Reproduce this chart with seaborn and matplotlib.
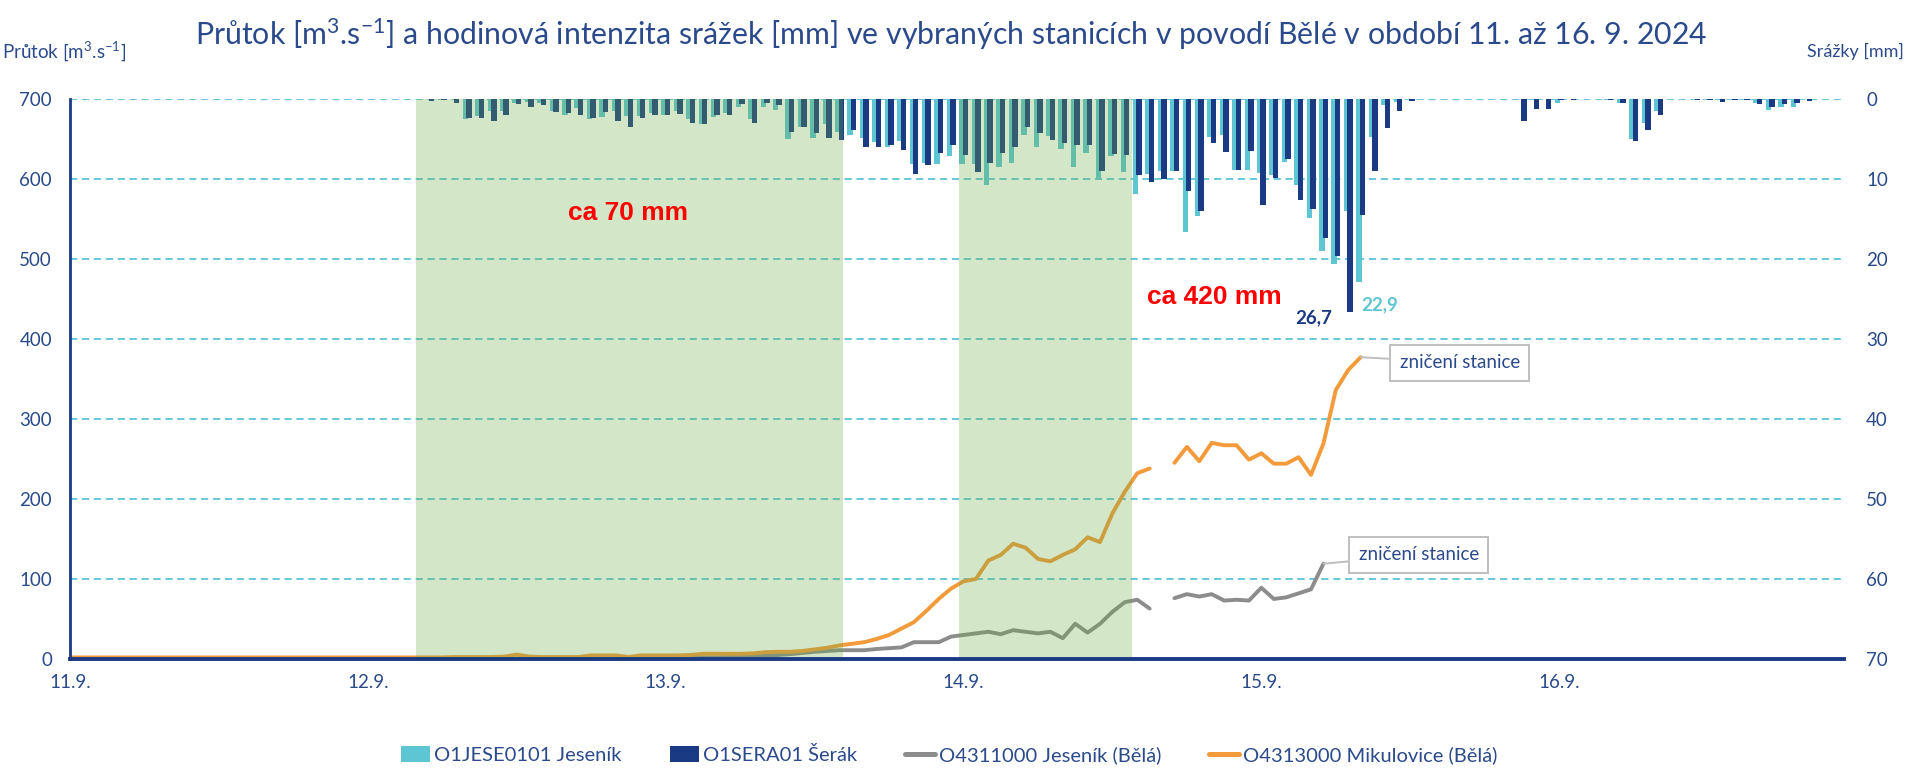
import numpy as np
import pandas as pd
import matplotlib
matplotlib.use("Agg")
import matplotlib.pyplot as plt
from matplotlib.patches import Patch
from matplotlib.lines import Line2D
import seaborn as sns

# ---------------- data ----------------
day_labels = ["11.9.", "12.9.", "13.9.", "14.9.", "15.9.", "16.9."]
day_hours = [0, 24, 48, 72, 96, 120]

# hourly precipitation [mm], hours counted from 11.9. 00:00
precip_hours = list(range(28, 141))
jesenik_mm = [
    0.1, 0.0, 0.2, 0.1, 2.6, 2.2, 1.5, 1.5, 0.5, 0.4,   # 28-37
    0.6, 1.5, 2.0, 1.2, 2.5, 2.3, 1.5, 2.2, 2.2, 1.8,   # 38-47
    2.0, 1.6, 2.5, 3.2, 2.3, 1.8, 1.0, 2.5, 1.0, 1.4,   # 48-57
    5.0, 3.5, 4.9, 3.2, 4.2, 4.5, 4.9, 5.4, 6.1, 5.3,   # 58-67
    8.2, 8.0, 8.2, 7.2, 8.2, 8.2, 10.8, 8.6, 8.0, 4.6,  # 68-77
    6.1, 4.7, 6.3, 8.6, 6.8, 10.0, 7.2, 9.2, 11.9, 9.4, # 78-87
    9.0, 9.1, 16.7, 14.7, 4.8, 4.6, 8.9, 8.9, 9.3, 9.6, # 88-97
    7.9, 10.8, 14.9, 19.0, 20.7, 14.0, 22.9, 4.8, 0.8, 0.4,  # 98-107
    0.1, 0.0, 0.0, 0.0, 0.0, 0.1, 0.0, 0.0, 0.0, 0.0,   # 108-117
    0.2, 0.1, 0.6, 0.1, 0.0, 0.0, 0.2, 0.6, 5.0, 3.1,   # 118-127
    1.5, 0.0, 0.0, 0.0, 0.0, 0.2, 0.0, 0.0, 0.6, 1.4,   # 128-137
    1.0, 1.0, 0.0,                                      # 138-140
]
serak_mm = [
    0.0, 0.3, 0.2, 0.5, 2.4, 2.4, 2.8, 2.0, 0.7, 1.0,   # 28-37
    0.8, 1.7, 1.8, 2.1, 2.4, 1.7, 2.8, 3.5, 2.4, 2.1,   # 38-47
    2.1, 1.9, 3.0, 3.2, 2.1, 2.1, 0.7, 3.0, 0.5, 0.8,   # 48-57
    4.2, 3.6, 4.3, 4.9, 5.2, 3.9, 6.1, 6.1, 5.8, 6.4,   # 58-67
    9.4, 8.3, 6.8, 5.8, 7.0, 9.2, 8.0, 6.8, 6.1, 3.6,   # 68-77
    4.3, 5.2, 5.6, 5.8, 5.8, 9.0, 6.9, 7.1, 9.6, 10.4,  # 78-87
    10.0, 9.1, 11.5, 14.0, 5.5, 6.7, 8.9, 6.5, 13.3, 9.9,   # 88-97
    7.5, 12.7, 13.8, 17.4, 19.7, 26.7, 14.5, 9.1, 3.7, 1.5, # 98-107
    0.3, 0.0, 0.0, 0.0, 0.0, 0.0, 0.0, 0.0, 0.0, 2.8,   # 108-117
    1.25, 1.25, 0.2, 0.2, 0.1, 0.0, 0.2, 0.6, 5.3, 3.9, # 118-127
    2.1, 0.0, 0.0, 0.2, 0.2, 0.4, 0.2, 0.2, 0.7, 1.1,   # 128-137
    0.7, 0.6, 0.3,                                      # 138-140
]

# hourly discharge [m3/s]; NaN = missing hour
flow_hours_mikulovice = list(range(0, 105))
mikulovice_flow = [
    2.0, 2.0, 2.0, 2.0, 2.0, 2.0, 2.0, 2.0, 2.0, 2.0, 2.0, 2.0,       # 0-11
    2.0, 2.0, 2.0, 2.0, 2.0, 2.0, 2.0, 2.0, 2.0, 2.0, 2.0, 2.0,       # 12-23
    2.0, 2.0, 2.0, 2.0, 2.0, 2.0, 2.0, 2.5, 2.5, 2.5,                 # 24-33
    2.5, 3.0, 5.5, 3.0, 2.5, 2.5, 2.5, 2.5, 4.5, 4.5,                 # 34-43
    4.5, 2.5, 4.5, 4.5, 4.5, 4.5, 5.0, 6.5, 6.5, 6.5,                 # 44-53
    6.5, 7.0, 8.5, 9.0, 9.0, 10, 12, 14, 17, 19,                      # 54-63
    21, 25, 30, 38, 46, 60, 75, 88, 97, 100,                          # 64-73
    123, 130, 144, 139, 125, 122, 130, 137, 152, 146,                 # 74-83
    182, 209, 232, 238, np.nan, 245, 265, 247, 270, 267,              # 84-93
    267, 249, 257, 244, 244, 252, 230, 269, 336, 361, 377,            # 94-104
]
flow_hours_jesenik = list(range(0, 102))
jesenik_flow = [
    0.5, 0.5, 0.5, 0.5, 0.5, 0.5, 0.5, 0.5, 0.5, 0.5, 0.5, 0.5,       # 0-11
    0.5, 0.5, 0.5, 0.5, 0.5, 0.5, 0.5, 0.5, 0.5, 0.5, 0.5, 0.5,       # 12-23
    0.5, 0.5, 0.5, 0.5, 0.5, 0.5, 0.5, 0.5, 0.5, 0.5, 0.5, 0.5,       # 24-35
    0.5, 0.5, 0.5, 0.5, 0.5, 0.5, 0.5, 0.5, 0.5, 0.5, 0.5, 0.5,       # 36-47
    1.0, 1.0, 1.5, 2.0, 2.0, 2.5, 3.0, 3.5, 4.0, 5.0,                 # 48-57
    6.0, 7.5, 9.0, 10, 11, 11, 11, 12.5, 13.5, 14.5,                  # 58-67
    21, 21, 21, 28, 30, 32, 34, 31, 36, 34,                           # 68-77
    32, 34, 26, 44, 33, 44, 59, 71, 74, 63,                           # 78-87
    np.nan, 76, 81, 78, 81, 73, 74, 73, 89, 75,                       # 88-97
    77, 82, 87, 119,                                                  # 98-101
]

rain_periods = [(27.85, 62.25), (71.65, 85.55)]

labels = ["O1JESE0101 Jeseník", "O1SERA01 Šerák",
          "O4311000 Jeseník (Bělá)", "O4313000 Mikulovice (Bělá)"]

# ---------------- style ----------------
c_light = "#5EC5D3"
c_dark = "#1B3A84"
c_grey = "#8C8C8C"
c_orange = "#F39A3B"
c_span = "#70AD47"
c_text = "#2B4A8C"
c_grid = "#5CC4D8"

sns.set_style("white")
plt.rcParams["font.family"] = ["Lato", "DejaVu Sans"]
plt.rcParams["mathtext.default"] = "regular"

fig = plt.figure(figsize=(19.09, 7.68), dpi=100)
ax = fig.add_axes([70 / 1909, 1 - 659 / 768, (1844 - 70) / 1909, (659 - 98.6) / 768])
ax2 = ax.twinx()

# discharge lines
for hrs, vals, col in [(flow_hours_jesenik, jesenik_flow, c_grey),
                       (flow_hours_mikulovice, mikulovice_flow, c_orange)]:
    df = pd.DataFrame({"hour": hrs, "flow": vals})
    df["seg"] = df["flow"].isna().cumsum()
    df = df.dropna()
    sns.lineplot(data=df, x="hour", y="flow", units="seg", estimator=None,
                 color=col, lw=2.8, ax=ax, legend=False,
                 solid_joinstyle="round", solid_capstyle="round")

# precipitation bars (hanging from the top)
ph = np.array(precip_hours, dtype=float)
sns.barplot(x=ph - 0.13, y=jesenik_mm, native_scale=True, width=0.44,
            color=c_light, saturation=1, errorbar=None, linewidth=0, ax=ax2)
sns.barplot(x=ph + 0.15, y=serak_mm, native_scale=True, width=0.44,
            color=c_dark, saturation=1, errorbar=None, linewidth=0, ax=ax2)

for s, e in rain_periods:
    ax2.axvspan(s, e, color=c_span, alpha=0.3, lw=0, zorder=10)

# axes
ax.set_xlim(0.12, 142.95)
ax.set_ylim(0, 700)
ax2.set_ylim(70, 0)
ax.set_yticks(range(0, 701, 100))
ax2.set_yticks(range(0, 71, 10))
ax.set_xticks(day_hours)
ax.set_xticklabels(day_labels)
ax.set_xlabel("")
ax.set_ylabel("")
ax2.set_ylabel("")
ax.grid(axis="y", color=c_grid, lw=1.3, linestyle=(0, (4, 2.6)))
ax.grid(axis="x", visible=False)
ax2.grid(False)

ax.tick_params(axis="y", length=0, pad=13, labelsize=13.5, labelcolor=c_text)
ax.tick_params(axis="x", length=0, pad=11, labelsize=13.5, labelcolor=c_text)
ax2.tick_params(axis="y", length=0, pad=16, labelsize=13.5, labelcolor=c_text)
for lab in ax2.get_yticklabels():
    lab.set_horizontalalignment("left")

for sp in ["top", "right", "bottom"]:
    ax.spines[sp].set_visible(False)
ax.spines["left"].set_color(c_dark)
ax.spines["left"].set_linewidth(2.0)
for sp in ["top", "right", "left"]:
    ax2.spines[sp].set_visible(False)
ax2.spines["bottom"].set_color(c_dark)
ax2.spines["bottom"].set_linewidth(2.8)
ax2.spines["bottom"].set_zorder(30)

# annotations
ax2.text(45.0, 14.3, "ca 70 mm", color="red", fontsize=19, fontweight="bold",
         family=["Liberation Sans", "DejaVu Sans"], ha="center", va="center", zorder=20)
ax2.text(92.2, 24.8, "ca 420 mm", color="red", fontsize=19, fontweight="bold",
         family=["Liberation Sans", "DejaVu Sans"], ha="center", va="center", zorder=20)
ax2.text(100.2, 27.4, "26,7", color=c_dark, fontsize=13.5, fontweight="bold",
         ha="center", va="center", zorder=20)
ax2.text(105.5, 25.8, "22,9", color=c_light, fontsize=13.5, fontweight="bold",
         ha="center", va="center", zorder=20)

box = dict(boxstyle="square,pad=0.5", fc="white", ec="#BFBFBF", lw=1.4)
arr = dict(arrowstyle="-", color="#BFBFBF", lw=1.4, shrinkA=0, shrinkB=0)
ax.annotate("zničení stanice", xy=(104, 377), xytext=(112.0, 370),
            ha="center", va="center", fontsize=13.5, color=c_text,
            bbox=box, arrowprops=arr, zorder=20)
ax.annotate("zničení stanice", xy=(101, 119), xytext=(108.7, 130),
            ha="center", va="center", fontsize=13.5, color=c_text,
            bbox=box, arrowprops=arr, zorder=20)

# titles
fig.text(0.4985, 1 - 34 / 768,
         "Průtok [m$^{3}$.s$^{-1}$] a hodinová intenzita srážek [mm] ve vybraných "
         "stanicích v povodí Bělé v období 11. až 16. 9. 2024",
         ha="center", va="center", fontsize=21.8, color=c_text)
fig.text(2 / 1909, 1 - 51 / 768, "Průtok [m$^{3}$.s$^{-1}$]", ha="left", va="center",
         fontsize=13.5, color=c_text)
fig.text(1904 / 1909, 1 - 51 / 768, "Srážky [mm]", ha="right", va="center",
         fontsize=13, color=c_text)

# legend
handles = [Patch(facecolor=c_light, edgecolor="none"),
           Patch(facecolor=c_dark, edgecolor="none"),
           Line2D([], [], color=c_grey, lw=3.6),
           Line2D([], [], color=c_orange, lw=3.6)]
fig.legend(handles, labels, loc="center", bbox_to_anchor=(0.497, 1 - 755 / 768),
           ncol=4, frameon=False, fontsize=14.5, handlelength=1.45, handleheight=0.85,
           handletextpad=0.2, columnspacing=2.4, labelcolor=c_text)

fig.savefig("out.png", dpi=100)
